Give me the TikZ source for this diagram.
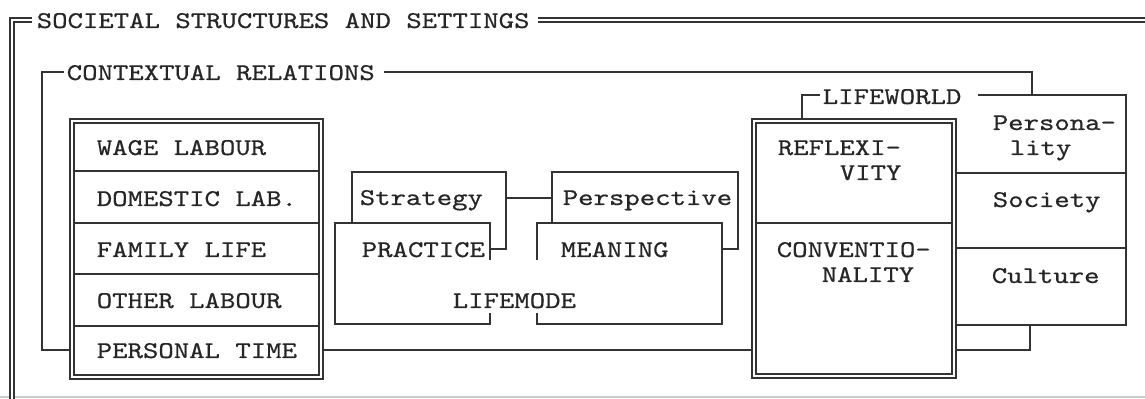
\documentclass[tikz,border=0pt]{standalone}
\usepackage{fontspec}
\newfontfamily\tw{lmmono10-regular.otf}[FakeStretch=1.222,FakeBold=0.6]
\begin{document}
\begin{tikzpicture}[x=0.5pt,y=-0.5pt,
  line width=0.8pt,
  txt/.style={anchor=base west, inner sep=0pt, font=\tw\fontsize{12}{14}\selectfont, text=black!85},
  dbl/.style={double, double distance=1.4pt, line width=0.6pt, draw=black!80},
  thin/.style={line width=0.8pt, draw=black!80}]
\useasboundingbox (0,0) rectangle (1145,399);
% page edge
\draw[gray!40, line width=0.6pt] (0,397) -- (1145,397);
% outer frame: societal structures
\node[txt] (soc) at (36,28) {SOCIETAL STRUCTURES AND SETTINGS};
\coordinate (socL) at (12,399);
\coordinate (socR) at (1145,20);
\draw[dbl] (socL) -- (12,20) -- ([xshift=-2pt]soc.west |- socR);
\draw[dbl] ([xshift=4pt]soc.east |- socR) -- (socR);
% left box
\node[draw, dbl, minimum width=124.5pt, minimum height=128pt, inner sep=0pt] (lb) at (196.5,249) {};
\foreach \yy in {171,223,274,326} \draw[thin] (74,\yy) -- (319,\yy);
\node[txt] (wl) at (96,155) {WAGE LABOUR};
\node[txt] (dl) at (96,206) {DOMESTIC LAB.};
\node[txt] (fl) at (96,257) {FAMILY LIFE};
\node[txt] (ol) at (96,308) {OTHER LABOUR};
\node[txt] (pt) at (96,358) {PERSONAL TIME};
% lifeworld box
\node[draw, dbl, minimum width=100pt, minimum height=127.5pt, inner sep=0pt] (lw) at (854,248.5) {};
\draw[thin] (756,223) -- (952,223);
\node[txt] (refl1) at (777,155) {REFLEXI-};
\node[txt] (refl2) at (839,180) {VITY};
\node[txt] (conv1) at (776,257) {CONVENTIO-};
\node[txt] (conv2) at (821,282) {NALITY};
% contextual relations frame
\node[txt] (ctx) at (66,80) {CONTEXTUAL RELATIONS};
\coordinate (ctxTL) at (42,72);
\coordinate (ctxTR) at (1032,72);
\coordinate (rowPT) at (0,350);
\draw[thin] ([xshift=-1pt]ctx.west |- ctxTL) -- (ctxTL) -- (ctxTL |- rowPT) -- (lb.west |- rowPT);
\draw[thin] ([xshift=4pt]ctx.east |- ctxTL) -- (ctxTR) -- (1032,95);
\draw[thin] (lb.east |- rowPT) -- (lw.west |- rowPT);
% lifeworld label and right column
\node[txt] (lwl) at (822,104) {LIFEWORLD};
\coordinate (lwTop) at (0,95);
\draw[thin] (lw.north -| 802,0) -- (802,95) -- ([xshift=-1pt]lwl.west |- lwTop);
\draw[thin] ([xshift=8pt]lwl.east |- lwTop) -- (1126,95) -- (1126,325) -- (lw.east |- 0,325);
\draw[thin] (lw.east |- 0,173) -- (1126,173);
\draw[thin] (lw.east |- 0,248) -- (1126,248);
\draw[thin] (1030,325) -- (1030,350) -- (lw.east |- rowPT);
\node[txt] (pers1) at (992,130) {Persona-};
\node[txt] (pers2) at (1009,155) {lity};
\node[txt] (soci) at (992,207) {Society};
\node[txt] (cult) at (991,283) {Culture};
% lifemode cluster
\draw[thin] (352,223) -- (352,172) -- (506,172) -- (506,249) -- (490,249);
\draw[thin] (552,223) -- (552,172) -- (738,172) -- (738,249) -- (722,249);
\draw[thin] (506,198) -- (552,198);
\draw[thin] (490,260) -- (490,223) -- (335,223) -- (335,324) -- (490,324) -- (490,313);
\draw[thin] (537,260) -- (537,223) -- (722,223) -- (722,324) -- (537,324) -- (537,313);
\node[txt] (strat) at (359,205) {Strategy};
\node[txt] (persp) at (562,205) {Perspective};
\node[txt] (prac) at (361,257) {PRACTICE};
\node[txt] (mean) at (560,257) {MEANING};
\node[txt] (lm) at (452,308) {LIFEMODE};
\end{tikzpicture}
\end{document}
